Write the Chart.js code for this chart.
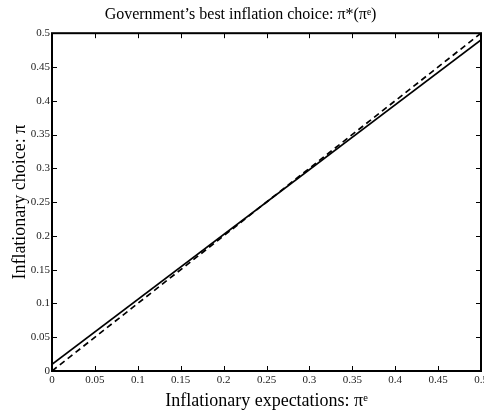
<!DOCTYPE html>
<html>
<head>
<meta charset="utf-8">
<script src="https://cdn.jsdelivr.net/npm/chart.js@4/dist/chart.umd.min.js"></script>
<style>
  html, body { margin: 0; padding: 0; background: #fff; }
  #wrap { width: 484px; height: 412px; }
</style>
</head>
<body>
<div id="wrap"><canvas id="myChart" width="484" height="412"></canvas></div>
<script>
// values
let expectations = [0, 0.5];
let best_choice = [0.01, 0.49];     // government's best response, solid
let forty_five = [0, 0.5];          // pi = pi^e, dashed
let tick_values = [0, 0.05, 0.1, 0.15, 0.2, 0.25, 0.3, 0.35, 0.4, 0.45, 0.5];

let serif = "'Liberation Serif', 'DejaVu Serif', serif";

function toPoints (xs, ys) {
  let pts = [];
  for (let i = 0; i < xs.length; i++) {
    pts.push({ x: xs[i], y: ys[i] });
  }
  return pts;
}

function fmt (v) {
  return String(parseFloat(v.toFixed(2)));
}

// box around the plot with inward ticks on all four sides (matlab style)
const framePlugin = {
  id: 'frame',
  afterDraw (chart) {
    let ctx = chart.ctx;
    let a = chart.chartArea;
    let xs = chart.scales.x;
    let ys = chart.scales.y;
    let len = 5;
    ctx.save();
    ctx.strokeStyle = '#000';
    ctx.lineWidth = 1;
    ctx.beginPath();
    tick_values.forEach(function (v) {
      let px = Math.round(xs.getPixelForValue(v)) + 0.5;
      ctx.moveTo(px, a.bottom); ctx.lineTo(px, a.bottom - len);
      ctx.moveTo(px, a.top); ctx.lineTo(px, a.top + len);
      let py = Math.round(ys.getPixelForValue(v)) + 0.5;
      ctx.moveTo(a.left, py); ctx.lineTo(a.left + len, py);
      ctx.moveTo(a.right, py); ctx.lineTo(a.right - len, py);
    });
    ctx.stroke();
    ctx.lineWidth = 2;
    ctx.strokeRect(a.left, a.top, a.right - a.left, a.bottom - a.top);
    ctx.restore();
  }
};

const config = {
  type: 'line',
  data: {
    datasets: [
      {
        label: 'best choice',
        data: toPoints(expectations, best_choice),
        borderColor: '#000',
        borderWidth: 1.7,
        pointRadius: 0,
        fill: false
      },
      {
        label: '45 degree',
        data: toPoints(expectations, forty_five),
        borderColor: '#000',
        borderWidth: 1.7,
        borderDash: [6, 4],
        pointRadius: 0,
        fill: false
      }
    ]
  },
  options: {
    responsive: false,
    animation: false,
    layout: { padding: { left: 0, right: 3, top: 0, bottom: 0 } },
    plugins: {
      legend: { display: false },
      tooltip: { enabled: false },
      title: {
        display: true,
        text: 'Government\u2019s best inflation choice: \u03c0*(\u03c0\u1d49)',
        color: '#000',
        font: { family: serif, size: 16, weight: 'normal' },
        padding: { top: 5, bottom: 9 }
      }
    },
    scales: {
      x: {
        type: 'linear',
        min: 0,
        max: 0.5,
        afterFit: function (scale) {
          scale.height = 41;
          scale.paddingLeft = 0;
          scale.paddingRight = 0;
        },
        afterBuildTicks: function (scale) {
          scale.ticks = tick_values.map(function (v) { return { value: v }; });
        },
        grid: { display: false, drawTicks: false },
        border: { display: false },
        ticks: {
          color: '#222',
          font: { family: serif, size: 11 },
          padding: 3,
          maxRotation: 0,
          autoSkip: false,
          callback: function (v) { return fmt(v); }
        },
        title: {
          display: true,
          text: 'Inflationary expectations: \u03c0\u1d49',
          color: '#000',
          font: { family: serif, size: 18 },
          padding: { top: 0, bottom: 0 }
        }
      },
      y: {
        type: 'linear',
        min: 0,
        max: 0.5,
        afterFit: function (scale) {
          scale.width = 52;
          scale.paddingTop = 0;
          scale.paddingBottom = 0;
        },
        afterBuildTicks: function (scale) {
          scale.ticks = tick_values.map(function (v) { return { value: v }; });
        },
        grid: { display: false, drawTicks: false },
        border: { display: false },
        ticks: {
          color: '#222',
          font: { family: serif, size: 11 },
          padding: 2,
          autoSkip: false,
          callback: function (v) { return fmt(v); }
        },
        title: {
          display: true,
          text: 'Inflationary choice: \u03c0',
          color: '#000',
          font: { family: serif, size: 18 },
          padding: { top: 9, bottom: 0 }
        }
      }
    }
  },
  plugins: [framePlugin]
};

let myChart = new Chart(document.getElementById('myChart'), config);
</script>
</body>
</html>
